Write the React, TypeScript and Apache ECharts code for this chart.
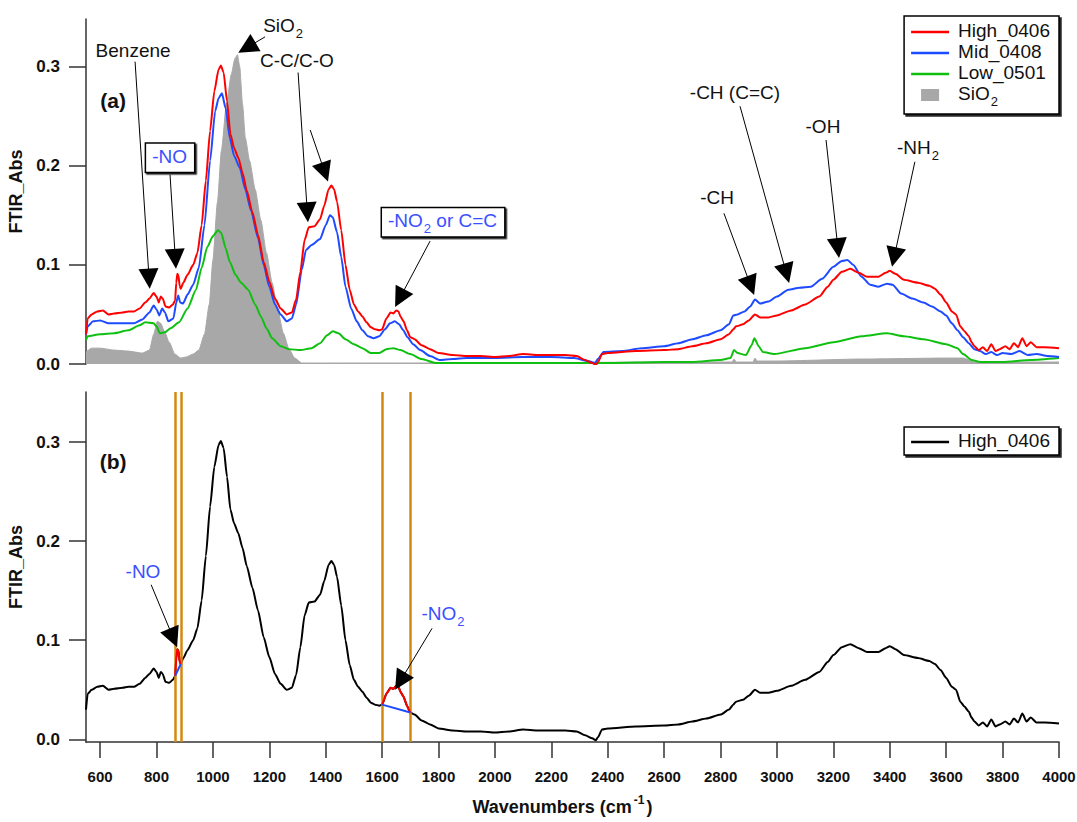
import React, { useEffect, useRef } from 'react';
import * as echarts from 'echarts';

const FONT = "'Liberation Sans', Arial, Helvetica, sans-serif";

// ---------- axes ----------
const X_MIN = 550;
const X_MAX = 4000;
const xTicks = [600, 800, 1000, 1200, 1400, 1600, 1800, 2000, 2200, 2400, 2600, 2800, 3000, 3200, 3400, 3600, 3800, 4000];
const yTicks = [0, 0.1, 0.2, 0.3];
const YA_MIN = 0;
const YA_MAX = 0.348;
const YB_MIN = -0.0027;
const YB_MAX = 0.3505;

// ---------- data (wavenumber, absorbance) ----------
const high0406: [number, number][] = [
  [550, 0.030], [556, 0.046], [570, 0.050], [590, 0.053], [610, 0.054], [630, 0.050], [650, 0.051], [680, 0.052],
  [700, 0.053], [720, 0.053], [740, 0.056], [760, 0.062], [775, 0.066], [790, 0.0715], [800, 0.068], [808, 0.062],
  [815, 0.068], [822, 0.066], [832, 0.058], [845, 0.057], [858, 0.060], [866, 0.064], [870, 0.082], [874, 0.091],
  [878, 0.089], [882, 0.079], [886, 0.076], [895, 0.082], [910, 0.090], [930, 0.100], [945, 0.112], [960, 0.140],
  [975, 0.185], [990, 0.235], [1005, 0.275], [1020, 0.297], [1028, 0.301], [1038, 0.294], [1050, 0.265], [1062, 0.232],
  [1075, 0.218], [1090, 0.208], [1105, 0.193], [1120, 0.175], [1140, 0.153], [1160, 0.130], [1180, 0.103], [1200, 0.083],
  [1220, 0.066], [1240, 0.056], [1262, 0.050], [1280, 0.052], [1295, 0.065], [1310, 0.093], [1325, 0.125], [1340, 0.138],
  [1360, 0.139], [1380, 0.146], [1395, 0.160], [1410, 0.176], [1420, 0.180], [1430, 0.176], [1440, 0.164], [1455, 0.135],
  [1470, 0.100], [1485, 0.075], [1500, 0.060], [1515, 0.053], [1530, 0.048], [1545, 0.042], [1560, 0.037], [1575, 0.035],
  [1590, 0.034], [1600, 0.035], [1615, 0.046], [1630, 0.052], [1640, 0.051], [1650, 0.054], [1658, 0.053], [1665, 0.048],
  [1676, 0.043], [1688, 0.034], [1700, 0.027], [1715, 0.025], [1740, 0.019], [1770, 0.015], [1800, 0.011], [1850, 0.009],
  [1900, 0.008], [1950, 0.008], [2000, 0.007], [2050, 0.008], [2100, 0.010], [2150, 0.009], [2200, 0.009], [2250, 0.009],
  [2290, 0.008], [2320, 0.004], [2345, 0.001], [2358, -0.001], [2365, 0.002], [2380, 0.010], [2400, 0.011], [2500, 0.013],
  [2600, 0.014], [2650, 0.015], [2700, 0.018], [2750, 0.021], [2800, 0.025], [2830, 0.030], [2845, 0.035], [2855, 0.038],
  [2880, 0.040], [2900, 0.044], [2922, 0.050], [2940, 0.047], [2970, 0.047], [3000, 0.049], [3050, 0.054], [3100, 0.060],
  [3150, 0.068], [3180, 0.078], [3200, 0.085], [3230, 0.093], [3260, 0.096], [3290, 0.092], [3320, 0.088], [3360, 0.088],
  [3385, 0.092], [3400, 0.094], [3420, 0.091], [3450, 0.085], [3500, 0.082], [3540, 0.079], [3560, 0.076], [3580, 0.070],
  [3600, 0.062], [3620, 0.053], [3635, 0.050], [3650, 0.038], [3665, 0.033], [3680, 0.028], [3690, 0.022], [3700, 0.018],
  [3715, 0.014], [3730, 0.017], [3745, 0.013], [3760, 0.020], [3775, 0.013], [3790, 0.015], [3810, 0.018], [3825, 0.015],
  [3840, 0.021], [3855, 0.017], [3870, 0.026], [3885, 0.018], [3900, 0.022], [3920, 0.017], [3950, 0.017], [4000, 0.016],
];

const mid0408: [number, number][] = [
  [550, 0.030], [556, 0.038], [575, 0.043], [600, 0.044], [630, 0.041], [670, 0.041], [720, 0.041], [750, 0.045],
  [775, 0.052], [790, 0.059], [800, 0.055], [810, 0.049], [820, 0.056], [830, 0.052], [842, 0.043], [860, 0.046],
  [870, 0.062], [877, 0.069], [884, 0.062], [894, 0.061], [910, 0.070], [930, 0.080], [950, 0.097], [970, 0.140],
  [990, 0.205], [1008, 0.255], [1020, 0.268], [1032, 0.273], [1045, 0.258], [1060, 0.228], [1075, 0.210], [1095, 0.198],
  [1115, 0.176], [1135, 0.155], [1160, 0.127], [1180, 0.100], [1200, 0.078], [1220, 0.060], [1240, 0.050], [1262, 0.043],
  [1280, 0.046], [1295, 0.060], [1315, 0.095], [1330, 0.115], [1350, 0.120], [1380, 0.126], [1400, 0.140], [1415, 0.150],
  [1425, 0.148], [1440, 0.133], [1455, 0.108], [1470, 0.078], [1490, 0.056], [1510, 0.043], [1530, 0.034], [1550, 0.028],
  [1570, 0.026], [1590, 0.028], [1610, 0.035], [1628, 0.041], [1645, 0.043], [1660, 0.040], [1675, 0.034], [1690, 0.027],
  [1710, 0.020], [1735, 0.014], [1770, 0.008], [1805, 0.004], [1850, 0.005], [1900, 0.006], [2000, 0.006], [2100, 0.007],
  [2200, 0.007], [2280, 0.006], [2330, 0.003], [2355, 0.001], [2365, 0.005], [2385, 0.012], [2450, 0.013], [2520, 0.016],
  [2600, 0.018], [2650, 0.021], [2700, 0.025], [2750, 0.029], [2800, 0.034], [2830, 0.040], [2845, 0.049], [2860, 0.050],
  [2885, 0.053], [2905, 0.058], [2922, 0.065], [2940, 0.061], [2970, 0.063], [3000, 0.068], [3040, 0.075], [3080, 0.077],
  [3120, 0.078], [3160, 0.086], [3200, 0.098], [3230, 0.104], [3250, 0.105], [3270, 0.100], [3300, 0.088], [3330, 0.080],
  [3360, 0.078], [3390, 0.081], [3410, 0.080], [3440, 0.071], [3480, 0.066], [3520, 0.062], [3550, 0.058], [3580, 0.053],
  [3600, 0.049], [3620, 0.041], [3640, 0.034], [3660, 0.027], [3680, 0.021], [3700, 0.015], [3720, 0.013], [3740, 0.010],
  [3760, 0.012], [3780, 0.009], [3800, 0.011], [3830, 0.010], [3860, 0.013], [3890, 0.009], [3920, 0.010], [3960, 0.008],
  [4000, 0.007],
];

const low0501: [number, number][] = [
  [550, 0.024], [556, 0.028], [600, 0.030], [650, 0.031], [700, 0.034], [740, 0.039], [760, 0.042], [790, 0.041],
  [800, 0.038], [812, 0.031], [830, 0.032], [850, 0.036], [880, 0.042], [910, 0.056], [940, 0.075], [960, 0.097],
  [980, 0.118], [1000, 0.129], [1018, 0.135], [1030, 0.132], [1045, 0.117], [1060, 0.103], [1080, 0.090], [1100, 0.082],
  [1125, 0.075], [1150, 0.060], [1170, 0.048], [1190, 0.036], [1210, 0.026], [1240, 0.018], [1270, 0.015], [1310, 0.014],
  [1350, 0.016], [1380, 0.021], [1405, 0.029], [1425, 0.033], [1445, 0.031], [1470, 0.025], [1500, 0.020], [1530, 0.016],
  [1560, 0.011], [1590, 0.011], [1615, 0.015], [1640, 0.016], [1665, 0.014], [1700, 0.010], [1740, 0.005], [1790, 0.001],
  [1850, 0.001], [2000, 0.001], [2200, 0.001], [2400, 0.001], [2600, 0.002], [2700, 0.002], [2800, 0.004], [2835, 0.006],
  [2848, 0.014], [2860, 0.011], [2890, 0.009], [2910, 0.019], [2920, 0.026], [2935, 0.018], [2950, 0.012], [2990, 0.010],
  [3100, 0.016], [3200, 0.022], [3300, 0.028], [3390, 0.031], [3450, 0.028], [3520, 0.025], [3600, 0.020], [3640, 0.016],
  [3660, 0.010], [3690, 0.004], [3720, 0.002], [3800, 0.002], [3900, 0.004], [4000, 0.006],
];

const sio2: [number, number][] = [
  [550, 0.012], [570, 0.016], [600, 0.016], [650, 0.014], [700, 0.013], [750, 0.011], [775, 0.014], [790, 0.030],
  [803, 0.043], [815, 0.041], [828, 0.033], [845, 0.022], [865, 0.010], [885, 0.006], [905, 0.007], [930, 0.010],
  [950, 0.014], [970, 0.030], [987, 0.060], [1000, 0.105], [1016, 0.163], [1030, 0.215], [1048, 0.262], [1065, 0.292],
  [1078, 0.308], [1087, 0.312], [1095, 0.300], [1105, 0.262], [1115, 0.228], [1130, 0.205], [1150, 0.176], [1170, 0.145],
  [1190, 0.112], [1210, 0.082], [1230, 0.054], [1250, 0.031], [1270, 0.015], [1290, 0.006], [1315, 0.001], [1400, 0.001],
  [2000, 0.001], [2600, 0.002], [2840, 0.002], [2848, 0.005], [2856, 0.002], [2915, 0.002], [2922, 0.006], [2930, 0.003],
  [3000, 0.003], [3300, 0.005], [3600, 0.006], [3660, 0.006], [3700, 0.002], [4000, 0.002],
];

// integration windows marked in panel (b)
const noBand: [number, number] = [866, 886];
const no2Band: [number, number] = [1600, 1700];

// ---------- annotations (data coordinates) ----------
type Ann = { text: string; x: number; y: number; color?: string; box?: boolean };
const annA: Ann[] = [
  { text: '{p|(a)}', x: 646, y: 0.266 },
  { text: '{t|Benzene}', x: 717, y: 0.315 },
  { text: '{t|-NO}', x: 848, y: 0.208, color: '#3A50FF', box: true },
  { text: '{t|SiO}{s|2}', x: 1249, y: 0.340 },
  { text: '{t|C-C/C-O}', x: 1298, y: 0.305 },
  { text: '{t|-NO}{s|2}{t| or C=C}', x: 1816, y: 0.143, color: '#3A50FF', box: true },
  { text: '{t|-CH (C=C)}', x: 2851, y: 0.272 },
  { text: '{t|-CH}', x: 2788, y: 0.1665 },
  { text: '{t|-OH}', x: 3163, y: 0.238 },
  { text: '{t|-NH}{s|2}', x: 3500, y: 0.217 },
];
const arrowsA: [number, number, number, number][] = [
  [724, 0.305, 776, 0.076],
  [848, 0.191, 869, 0.096],
  [1185, 0.330, 1090, 0.314],
  [1302, 0.294, 1337, 0.143],
  [1345, 0.236, 1408, 0.184],
  [1770, 0.124, 1646, 0.0575],
  [2869, 0.260, 3043, 0.0817],
  [2812, 0.152, 2919, 0.0696],
  [3174, 0.226, 3220, 0.107],
  [3489, 0.204, 3408, 0.098],
];
const annB: Ann[] = [
  { text: '{p|(b)}', x: 646, y: 0.280 },
  { text: '{t|-NO}', x: 752, y: 0.168, color: '#3A50FF' },
  { text: '{t|-NO}{s|2}', x: 1816, y: 0.125, color: '#3A50FF' },
];
const arrowsB: [number, number, number, number][] = [
  [781, 0.156, 873, 0.093],
  [1777, 0.112, 1646, 0.050],
];

// ---------- layout ----------
const GRID_LEFT = 86;
const GRID_W = 973;
const GA_TOP = 19;
const GA_H = 345;
const GB_TOP = 392;
const GB_H = 350;

const RED = '#FF0000';
const BLUE = '#1E4BFF';
const GREEN = '#10C010';
const GRAY = '#A8A8A8';
const ORANGE = '#D4880F';
const AXIS = '#333333';
const INK = '#111111';

const KX = GRID_W / (X_MAX - X_MIN);
const KYA = GA_H / (YA_MAX - YA_MIN);
const KYB = GB_H / (YB_MAX - YB_MIN);
const HEAD_LEN = 20;

function arrowCoords(a: [number, number, number, number], ky: number) {
  const [x1, y1, x2, y2] = a;
  const dxp = (x2 - x1) * KX;
  const dyp = (y2 - y1) * ky;
  const len = Math.hypot(dxp, dyp) || 1;
  const back = HEAD_LEN / 2;
  return [[x1, y1], [x2 - (dxp / len) * back / KX, y2 - (dyp / len) * back / ky]];
}

function valueAt(data: [number, number][], x: number): number {
  const p = data.find((d) => d[0] === x);
  return p ? p[1] : 0;
}

const rich: any = {
  t: { fontSize: 19, lineHeight: 22, verticalAlign: 'top', fontFamily: FONT },
  s: { fontSize: 13, lineHeight: 12, padding: [11, 0, 0, 1], verticalAlign: 'top', fontFamily: FONT },
  p: { fontSize: 21, fontWeight: 'bold', lineHeight: 24, fontFamily: FONT, color: INK },
};

function labelSeries(anns: Ann[], idx: number) {
  return {
    type: 'scatter',
    xAxisIndex: idx,
    yAxisIndex: idx,
    symbol: 'circle',
    symbolSize: 1,
    silent: true,
    z: 8,
    itemStyle: { color: 'rgba(0,0,0,0)', opacity: 1 },
    label: { show: true, position: 'inside', color: INK, fontFamily: FONT, fontSize: 19, textBorderWidth: 0, opacity: 1, rich },
    data: anns.map((a) => ({
      value: [a.x, a.y],
      label: a.box
        ? {
            formatter: a.text,
            color: a.color || INK,
            backgroundColor: '#fff',
            borderColor: '#000',
            borderWidth: 1.5,
            padding: [3, 7, 3, 6],
            shadowColor: 'rgba(0,0,0,0.85)',
            shadowOffsetX: 1.5,
            shadowOffsetY: 1.5,
            shadowBlur: 0,
          }
        : { formatter: a.text, color: a.color || INK },
    })),
  };
}

function arrowSeries(arrows: [number, number, number, number][], idx: number, ky: number) {
  return {
    type: 'lines',
    coordinateSystem: 'cartesian2d',
    xAxisIndex: idx,
    yAxisIndex: idx,
    silent: true,
    z: 7,
    symbol: ['none', 'triangle'],
    symbolSize: [11, HEAD_LEN],
    lineStyle: { color: '#000', width: 1, opacity: 1, curveness: 0 },
    data: arrows.map((a) => ({ coords: arrowCoords(a, ky) })),
  };
}

const lineIcon = 'path://M0 0H38V2.5H0Z';
const boxIcon = 'path://M0 0H18V12H0Z';

function yAxis(idx: number, min: number, max: number) {
  return {
    type: 'value',
    gridIndex: idx,
    min,
    max,
    splitLine: { show: false },
    axisLine: { show: true, onZero: false, lineStyle: { color: AXIS, width: 1.5 } },
    axisTick: { show: true, inside: false, length: 17, customValues: yTicks, lineStyle: { color: AXIS, width: 1.5 } },
    axisLabel: {
      show: true,
      margin: 26,
      customValues: yTicks,
      formatter: (v: number) => v.toFixed(1),
      fontSize: 17,
      fontWeight: 'bold',
      color: INK,
      fontFamily: FONT,
    },
    name: 'FTIR_Abs',
    nameLocation: 'middle',
    nameGap: 56,
    nameTextStyle: { fontSize: 18, fontWeight: 'bold', color: INK, fontFamily: FONT },
  };
}

export default function App() {
  const ref = useRef<HTMLDivElement>(null);

  useEffect(() => {
    if (!ref.current) return;
    const chart = echarts.init(ref.current, undefined, { renderer: 'svg' });

    const redNo = high0406.filter((p) => p[0] >= noBand[0] && p[0] <= noBand[1]);
    const redNo2 = high0406.filter((p) => p[0] >= no2Band[0] && p[0] <= no2Band[1]);
    const baseNo = [[noBand[0], valueAt(high0406, noBand[0])], [noBand[1], valueAt(high0406, noBand[1])]];
    const baseNo2 = [[no2Band[0], valueAt(high0406, no2Band[0])], [no2Band[1], valueAt(high0406, no2Band[1])]];

    const lineCommon = { type: 'line', symbol: 'none', showSymbol: false, smooth: 0.2, smoothMonotone: 'x', silent: true };

    const option: any = {
      animation: false,
      backgroundColor: '#fff',
      textStyle: { fontFamily: FONT },
      grid: [
        { left: GRID_LEFT, top: GA_TOP, width: GRID_W, height: GA_H, outerBoundsMode: 'none', containLabel: false },
        { left: GRID_LEFT, top: GB_TOP, width: GRID_W, height: GB_H, outerBoundsMode: 'none', containLabel: false },
      ],
      xAxis: [
        { type: 'value', gridIndex: 0, min: X_MIN, max: X_MAX, show: false, splitLine: { show: false } },
        {
          type: 'value',
          gridIndex: 1,
          min: X_MIN,
          max: X_MAX,
          splitLine: { show: false },
          axisLine: { show: true, onZero: false, lineStyle: { color: AXIS, width: 1.5 } },
          axisTick: { show: true, inside: false, length: 16, customValues: xTicks, lineStyle: { color: AXIS, width: 1.5 } },
          axisLabel: {
            show: true,
            margin: 27,
            customValues: xTicks,
            formatter: (v: number) => String(v),
            fontSize: 15,
            fontWeight: 'bold',
            color: INK,
            fontFamily: FONT,
          },
          name: '{b|Wavenumbers (cm}{u|-1}{b|)}',
          nameLocation: 'middle',
          nameGap: 52,
          nameTextStyle: {
            padding: [0, 20, 0, 0],
            rich: {
              b: { fontSize: 18, fontWeight: 'bold', lineHeight: 22, verticalAlign: 'bottom', color: INK, fontFamily: FONT },
              u: { fontSize: 12, fontWeight: 'bold', lineHeight: 12, verticalAlign: 'top', color: INK, fontFamily: FONT, padding: [0, 2, 0, 2] },
            },
          },
        },
      ],
      yAxis: [yAxis(0, YA_MIN, YA_MAX), yAxis(1, YB_MIN, YB_MAX)],
      legend: [
        {
          orient: 'vertical',
          right: 18,
          top: 16,
          itemWidth: 38,
          itemHeight: 12,
          itemGap: 2,
          padding: [5, 9, 6, 7],
          backgroundColor: '#fff',
          borderColor: '#000',
          borderWidth: 1.5,
          borderRadius: 0,
          shadowColor: 'rgba(0,0,0,0.85)',
          shadowOffsetX: 2,
          shadowOffsetY: 2,
          shadowBlur: 0,
          selectedMode: false,
          formatter: (n: string) => (n === 'SiO2' ? '{t|SiO}{s|2}' : `{t|${n}}`),
          textStyle: {
            color: INK,
            fontFamily: FONT,
            fontSize: 19,
            rich: {
              t: { fontSize: 19, lineHeight: 22, verticalAlign: 'top', fontFamily: FONT, color: INK, padding: [0, 0, 0, 4] },
              s: { fontSize: 13, lineHeight: 12, padding: [11, 0, 0, 1], verticalAlign: 'top', fontFamily: FONT, color: INK },
            },
          },
          data: [
            { name: 'High_0406', icon: lineIcon, itemStyle: { color: RED, borderWidth: 0 } },
            { name: 'Mid_0408', icon: lineIcon, itemStyle: { color: BLUE, borderWidth: 0 } },
            { name: 'Low_0501', icon: lineIcon, itemStyle: { color: GREEN, borderWidth: 0 } },
            { name: 'SiO2', icon: boxIcon, itemStyle: { color: GRAY, borderWidth: 0 } },
          ],
        },
        {
          orient: 'vertical',
          right: 18,
          top: 427,
          itemWidth: 38,
          itemHeight: 12,
          padding: [4, 9, 5, 7],
          backgroundColor: '#fff',
          borderColor: '#000',
          borderWidth: 1.5,
          shadowColor: 'rgba(0,0,0,0.85)',
          shadowOffsetX: 2,
          shadowOffsetY: 2,
          shadowBlur: 0,
          selectedMode: false,
          formatter: () => '{t|High_0406}',
          textStyle: {
            color: INK,
            fontFamily: FONT,
            fontSize: 19,
            rich: {
              t: { fontSize: 19, lineHeight: 22, verticalAlign: 'top', fontFamily: FONT, color: INK, padding: [0, 0, 0, 4] },
            },
          },
          data: [{ name: 'High_0406_b', icon: lineIcon, itemStyle: { color: '#000', borderWidth: 0 } }],
        },
      ],
      series: [
        {
          ...lineCommon,
          name: 'SiO2',
          xAxisIndex: 0,
          yAxisIndex: 0,
          z: 1,
          color: GRAY,
          lineStyle: { color: GRAY, width: 1 },
          areaStyle: { color: GRAY, opacity: 1 },
          data: sio2,
        },
        { ...lineCommon, name: 'Low_0501', xAxisIndex: 0, yAxisIndex: 0, z: 2, color: GREEN, lineStyle: { color: GREEN, width: 2 }, data: low0501 },
        { ...lineCommon, name: 'Mid_0408', xAxisIndex: 0, yAxisIndex: 0, z: 3, color: BLUE, lineStyle: { color: BLUE, width: 2 }, data: mid0408 },
        { ...lineCommon, name: 'High_0406', xAxisIndex: 0, yAxisIndex: 0, z: 4, color: RED, lineStyle: { color: RED, width: 2 }, data: high0406 },
        arrowSeries(arrowsA, 0, KYA),
        labelSeries(annA, 0),
        {
          ...lineCommon,
          name: 'High_0406_b',
          xAxisIndex: 1,
          yAxisIndex: 1,
          z: 3,
          color: '#000',
          lineStyle: { color: '#000', width: 2 },
          data: high0406,
          markLine: {
            silent: true,
            symbol: ['none', 'none'],
            label: { show: false },
            lineStyle: { color: ORANGE, width: 2.5, type: 'solid' },
            data: [...noBand, ...no2Band].map((x) => ({ xAxis: x })),
          },
        },
        { ...lineCommon, name: 'b_red_no', xAxisIndex: 1, yAxisIndex: 1, z: 5, smooth: false, lineStyle: { color: RED, width: 2 }, data: redNo },
        { ...lineCommon, name: 'b_red_no2', xAxisIndex: 1, yAxisIndex: 1, z: 5, smooth: false, lineStyle: { color: RED, width: 2 }, data: redNo2 },
        { ...lineCommon, name: 'b_base_no', xAxisIndex: 1, yAxisIndex: 1, z: 5, smooth: false, lineStyle: { color: BLUE, width: 2 }, data: baseNo },
        { ...lineCommon, name: 'b_base_no2', xAxisIndex: 1, yAxisIndex: 1, z: 5, smooth: false, lineStyle: { color: BLUE, width: 2 }, data: baseNo2 },
        arrowSeries(arrowsB, 1, KYB),
        labelSeries(annB, 1),
      ],
    };

    chart.setOption(option);
    return () => chart.dispose();
  }, []);

  return (
    <div
      ref={ref}
      style={{ position: 'absolute', left: 0, top: 0, width: 1077, height: 822, background: '#fff' }}
    />
  );
}
